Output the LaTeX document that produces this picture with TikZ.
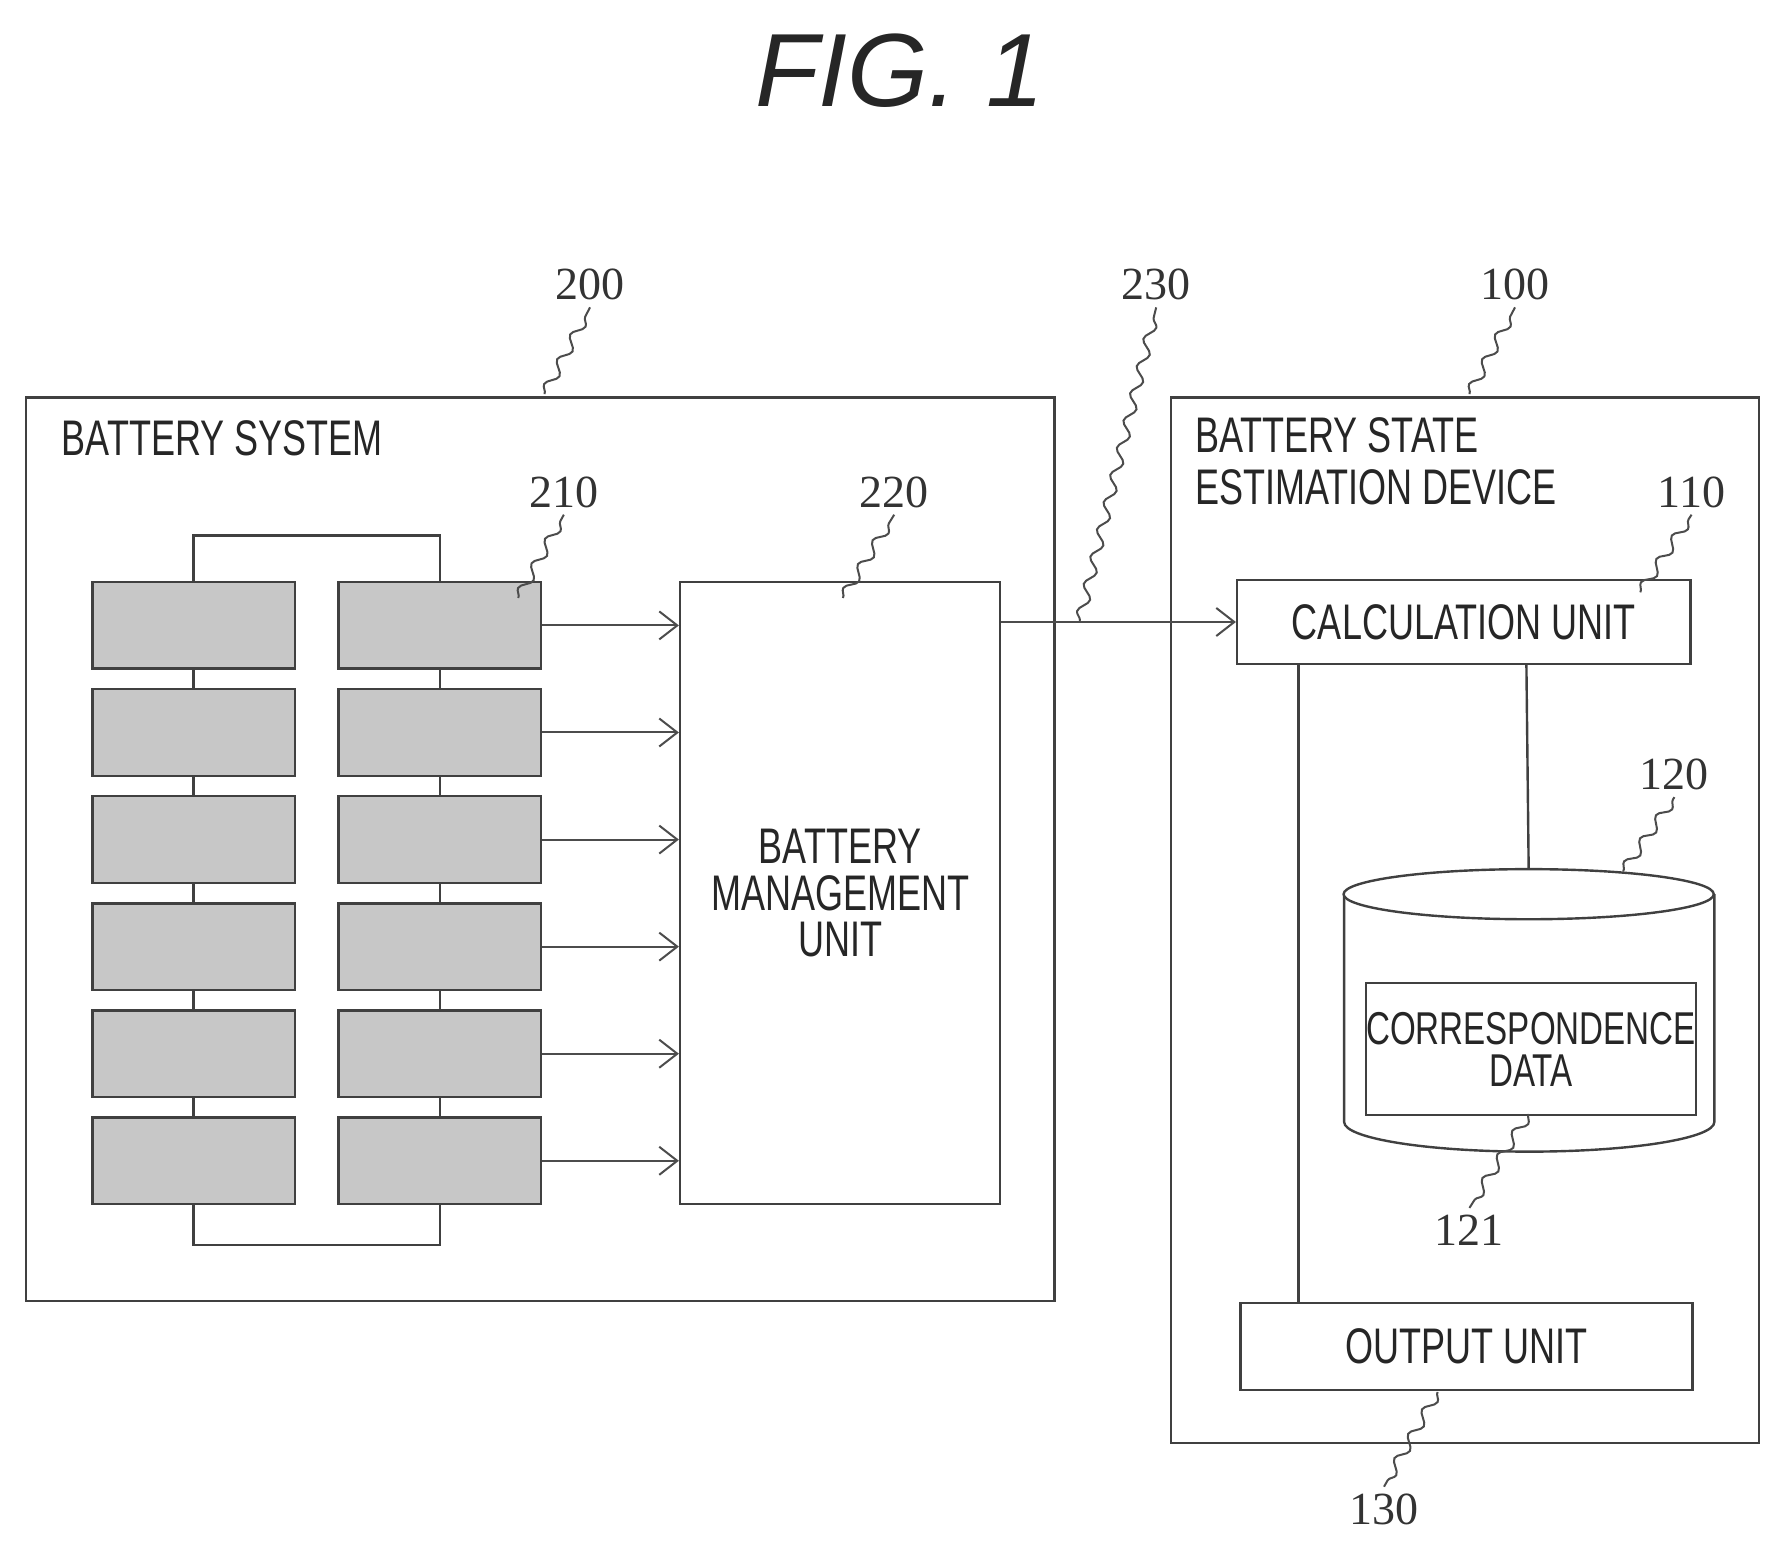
\documentclass[tikz,border=0pt]{standalone}
\usepackage{fontspec}
\setmainfont{Liberation Sans}
\newfontfamily\cond[FakeStretch=0.72]{Liberation Sans}
\newfontfamily\numf{Liberation Serif}
\usetikzlibrary{decorations.pathmorphing,arrows.meta}
\begin{document}
\begin{tikzpicture}[x=0.02cm,y=-0.02cm,
 box/.style={draw=black!75,line width=1.2pt,anchor=north west,inner sep=0pt},
 cell/.style={box,fill=black!22,minimum width=3.56cm,minimum height=1.52cm},
 lab/.style={font=\cond\fontsize{25}{27}\selectfont,text=black!85,align=center},
 num/.style={font=\numf\fontsize{23}{25}\selectfont,text=black!80},
 lead/.style={draw=black!70,line width=1pt,decorate,decoration={snake,amplitude=2.5pt,segment length=14pt}},
 arr/.style={draw=black!70,line width=1pt,-{Straight Barb[length=9pt,width=14pt]}},
 wire/.style={draw=black!75,line width=1.2pt}]
\useasboundingbox (0,0) rectangle (1560,1354);
\node[font=\itshape\fontsize{52}{56}\selectfont,text=black!85] (title) at (790,62) {FIG. 1};
% battery system
\node[box,minimum width=18.06cm,minimum height=15.86cm] (sys) at (22,348) {};
\node[lab,anchor=west] (syslab) at (48,385) {BATTERY SYSTEM};
\node[num] (n200) at (518,250) {200};
\coordinate (c200) at (478,346);
\draw[lead] (c200) -- (n200.south);
\foreach \i/\y in {1/510,2/604,3/698,4/792,5/886,6/980}{
  \node[cell] (L\i) at (80,\y) {};
  \node[cell] (R\i) at (296,\y) {};
}
\foreach \a/\b in {1/2,2/3,3/4,4/5,5/6}{
  \draw[wire] (L\a.south) -- (L\b.north);
  \draw[wire] (R\a.south) -- (R\b.north);
}
\draw[wire] (L1.north) -- ++(0,-40) -| (R1.north);
\draw[wire] (L6.south) -- ++(0,35) -| (R6.south);
\node[box,minimum width=5.62cm,minimum height=10.92cm] (bmu) at (596,510) {};
\node[lab] (bmulab) at (bmu.center) {BATTERY\\[-4pt]MANAGEMENT\\[-4pt]UNIT};
\foreach \i in {1,...,6}{\draw[arr] (R\i.east) -- (R\i.east -| bmu.west);}
\node[num] (n210) at (495,432) {210};
\coordinate (c210) at (455,525);
\draw[lead] (c210) -- (n210.south);
\node[num] (n220) at (785,432) {220};
\coordinate (c220) at (740,525);
\draw[lead] (c220) -- (n220.south);
% device
\node[box,minimum width=10.32cm,minimum height=18.36cm] (dev) at (1027,348) {};
\node[lab,anchor=north west,align=left] (devlab) at (1043,360) {BATTERY STATE\\[-1pt]ESTIMATION DEVICE};
\node[num] (n100) at (1330,250) {100};
\coordinate (c100) at (1290,346);
\draw[lead] (c100) -- (n100.south);
\node[box,minimum width=7.96cm,minimum height=1.48cm] (calc) at (1085,508) {};
\node[lab] at (calc.center) {CALCULATION UNIT};
\node[num] (n110) at (1485,432) {110};
\coordinate (c110) at (1440,520);
\draw[lead] (c110) -- (n110.south);
\draw[arr] (bmu.east |- calc.west) -- (calc.west);
\coordinate (c230) at (948,545);
\node[num] (n230) at (1015,250) {230};
\draw[lead] (c230) -- (n230.south);
\node[box,minimum width=7.94cm,minimum height=1.52cm] (out) at (1088,1143) {};
\node[lab] at (out.center) {OUTPUT UNIT};
\node[num] (n130) at (1215,1325) {130};
\coordinate (c130) at (1262,1222);
\draw[lead] (c130) -- (n130.north);
\draw[wire] (1140,583) coordinate (w1) -- (w1 |- out.north);
% cylinder
\coordinate (dbtop) at (1342,785);
\draw[wire] (1340,583) coordinate (w2) -- (dbtop |- 0,763);
\draw[wire,fill=white] (1180,785) -- (1180,985) arc[start angle=180,end angle=360,x radius=162.5,y radius=-26] -- (1505,785);
\draw[wire,fill=white] (dbtop) ellipse [x radius=162.5,y radius=22];
\node[box,minimum width=5.8cm,minimum height=2.32cm] (cd) at (1198,862) {};
\node[lab,font=\cond\fontsize{23}{25}\selectfont] at (cd.center) {CORRESPONDENCE\\[-4pt]DATA};
\node[num] (n120) at (1470,680) {120};
\coordinate (c120) at (1425,765);
\draw[lead] (c120) -- (n120.south);
\node[num] (n121) at (1290,1080) {121};
\coordinate (c121) at (1342,978);
\draw[lead] (c121) -- (n121.north);
\end{tikzpicture}
\end{document}
